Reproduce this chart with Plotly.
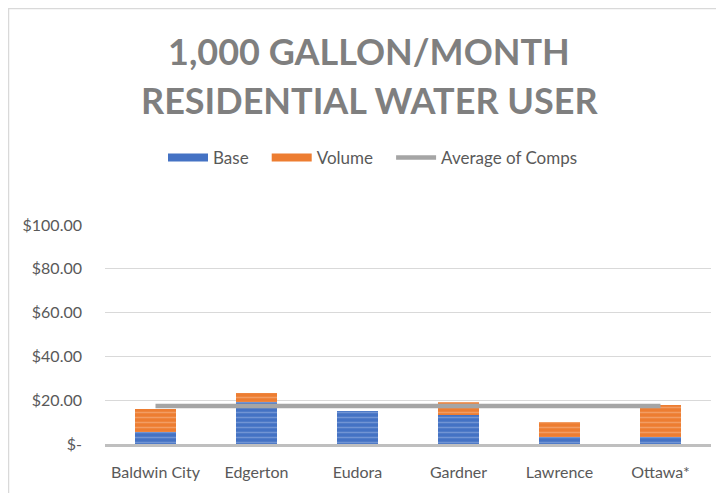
import plotly.graph_objects as go

categories = ["Baldwin City", "Edgerton", "Eudora", "Gardner", "Lawrence", "Ottawa*"]
base_values = [5.7, 19.0, 14.9, 13.4, 3.4, 3.4]
volume_values = [10.4, 4.4, 0.0, 5.8, 6.6, 14.2]
average_value = 17.4
average_values = [average_value] * len(categories)
tick_values = [0, 20, 40, 60, 80, 100]
tick_labels = ["$-", "$20.00", "$40.00", "$60.00", "$80.00", "$100.00"]
title_lines = ["1,000 GALLON/MONTH", "RESIDENTIAL WATER USER"]

# page has an 8px body margin; figure sized to fill the rest of the window
OFF = 8
W, H = 724 - OFF, 493 - OFF
L, R, T, B = 105 - OFF, 13, 225 - OFF, 49
pw, ph = W - L - R, H - T - B

def px_x(x):  # screen pixel -> paper
    return (x - OFF - L) / pw

def px_y(y):
    return (H - B - (y - OFF)) / ph

BLUE, BLUE_L = "#4472C4", "#9DB5E3"
ORANGE, ORANGE_L = "#ED7D31", "#F8BE96"
PAD = "&nbsp;&nbsp;&nbsp;"

fig = go.Figure()
fig.add_trace(go.Bar(
    x=categories, y=base_values, name="Base", showlegend=False, legendgroup="base",
    marker=dict(color=BLUE, line=dict(width=0),
                pattern=dict(shape="-", fgcolor=BLUE_L, bgcolor=BLUE,
                             size=5, solidity=0.3, fillmode="overlay")),
))
fig.add_trace(go.Bar(
    x=categories, y=volume_values, name="Volume", showlegend=False, legendgroup="vol",
    marker=dict(color=ORANGE, line=dict(width=0),
                pattern=dict(shape="-", fgcolor=ORANGE_L, bgcolor=ORANGE,
                             size=5, solidity=0.3, fillmode="overlay")),
))
# legend-only entries mimicking Excel's wide striped swatches
fig.add_trace(go.Scatter(x=[None], y=[None], name="Base" + PAD, mode="lines", legendgroup="base",
                         line=dict(color=BLUE, width=8)))
fig.add_trace(go.Scatter(x=[None], y=[None], name="Volume" + PAD, mode="lines", legendgroup="vol",
                         line=dict(color=ORANGE, width=8)))
fig.add_trace(go.Scatter(
    x=categories, y=average_values, name="Average of Comps", mode="lines",
    line=dict(color="#A5A5A5", width=4.5),
))

font_family = "Lato, 'Open Sans', sans-serif"
annotations = []
for txt, ypx in zip(title_lines, [51, 100]):
    annotations.append(dict(
        text="<b>" + txt + "</b>", x=px_x(369), y=px_y(ypx), xref="paper", yref="paper",
        xanchor="center", yanchor="middle", showarrow=False,
        font=dict(family=font_family, size=36, color="#7F7F7F"),
    ))

fig.update_layout(
    width=W, height=H,
    margin=dict(l=L, r=R, t=T, b=B),
    paper_bgcolor="white", plot_bgcolor="white",
    barmode="stack", bargap=0.6,
    font=dict(family=font_family, size=16, color="#595959"),
    showlegend=True,
    legend=dict(orientation="h", x=px_x(373), y=px_y(158), xanchor="center", yanchor="middle",
                font=dict(size=17, color="#595959"), traceorder="normal",
                itemwidth=40),
    annotations=annotations,
    shapes=[dict(type="rect", xref="paper", yref="paper",
                 x0=px_x(8.5), x1=px_x(740), y0=px_y(510), y1=px_y(8.5),
                 line=dict(color="#D9D9D9", width=1.5), layer="below")],
    xaxis=dict(showline=True, linecolor="#BFBFBF", linewidth=3, ticks="",
               ticklabelstandoff=12,
               tickfont=dict(size=16, color="#595959"), showgrid=False),
    yaxis=dict(range=[0, 100], tickvals=tick_values, ticktext=tick_labels,
               showgrid=True, gridcolor="#D9D9D9", gridwidth=1, zeroline=False,
               ticks="", ticklabelstandoff=22,
               tickfont=dict(size=16, color="#595959")),
)

fig.write_html("out.html")
